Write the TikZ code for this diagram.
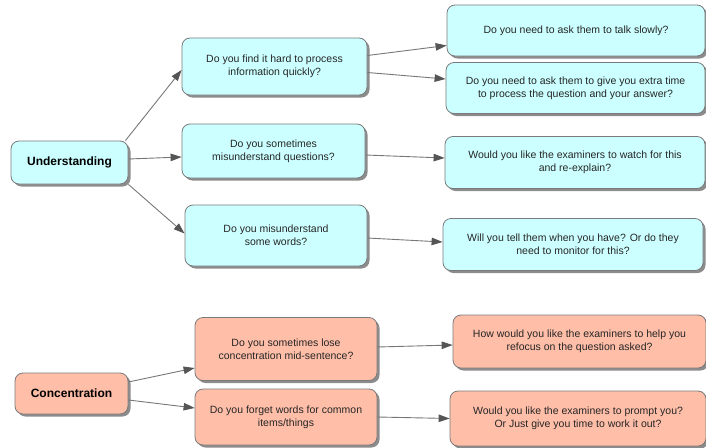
\documentclass[tikz,border=0pt]{standalone}
\usepackage{fontspec}
\setmainfont{Liberation Sans}
\usepackage{xcolor}
\usepackage{tikz}
\usetikzlibrary{shapes,arrows.meta,shadows}

\definecolor{cyanbox}{HTML}{CCFFFF}
\definecolor{salmonbox}{HTML}{FFBEA8}
\definecolor{boxline}{HTML}{7A7A7A}
\definecolor{arrowgray}{HTML}{555555}
\definecolor{linegray}{HTML}{777777}

\begin{document}
\begin{tikzpicture}[
  x=1pt, y=-1pt,
  base/.style={rectangle, draw=boxline, line width=0.8pt, rounded corners=8pt, align=center, text=black!85,
    font=\fontsize{10.5}{13}\selectfont,
    drop shadow={shadow xshift=2.5pt, shadow yshift=-2.5pt, fill=black!45, opacity=1}},
  topic/.style={base, font=\fontsize{12}{14}\selectfont\bfseries, text=black},
  undbox/.style={fill=cyanbox},
  conbox/.style={fill=salmonbox},
  arrow/.style={-{Triangle[length=11pt,width=7.5pt,color=arrowgray]}, draw=linegray, line width=0.9pt}
]
  \useasboundingbox (0,0) rectangle (706,447);

  % understanding
  \node[topic, undbox, minimum width=117pt, minimum height=43pt] (und) at (69.5,162.5) {Understanding};
  \node[base, undbox, minimum width=185pt, minimum height=57pt] (q1) at (274.5,66.5) {Do you find it hard to process\\information quickly?};
  \node[base, undbox, minimum width=183pt, minimum height=54pt] (q2) at (273.5,151) {Do you sometimes\\misunderstand questions?};
  \node[base, undbox, minimum width=182pt, minimum height=61pt] (q3) at (276,235.5) {Do you misunderstand\\some words?};
  \node[base, undbox, minimum width=258pt, minimum height=51pt] (a1) at (576,30.5) {Do you need to ask them to talk slowly?};
  \node[base, undbox, minimum width=259pt, minimum height=51pt] (a2) at (575.5,88) {Do you need to ask them to give you extra time\\to process the question and your answer?};
  \node[base, undbox, minimum width=260pt, minimum height=52pt] (a3) at (575,162.5) {Would you like the examiners to watch for this\\and re-explain?};
  \node[base, undbox, minimum width=260pt, minimum height=52pt] (a4) at (573,244.5) {Will you tell them when you have? Or do they\\need to monitor for this?};

  % concentration
  \node[topic, conbox, minimum width=113pt, minimum height=41pt] (con) at (71.5,393.5) {Concentration};
  \node[base, conbox, minimum width=182pt, minimum height=63pt] (c1) at (286,349) {Do you sometimes lose\\concentration mid-sentence?};
  \node[base, conbox, minimum width=182pt, minimum height=56pt] (c2) at (286,417) {Do you forget words for common\\items/things};
  \node[base, conbox, minimum width=253pt, minimum height=53pt] (ca1) at (579.5,341.5) {How would you like the examiners to help you\\refocus on the question asked?};
  \node[base, conbox, minimum width=256pt, minimum height=55pt] (ca2) at (578,418.5) {Would you like the examiners to prompt you?\\Or Just give you time to work it out?};

  \draw[arrow] ([xshift=-3pt]und.north east) -- ([yshift=-3.5pt]q1.west);
  \draw[arrow] ([yshift=3.5pt]und.east) -- ([yshift=-6pt]q2.west);
  \draw[arrow] (und.south east) -- ([yshift=2pt]q3.west);
  \draw[arrow] ([yshift=11pt]q1.east) -- ([yshift=-15pt]a1.west);
  \draw[arrow] ([yshift=-6pt]q1.east) -- ([yshift=9pt]a2.west);
  \draw[arrow] ([yshift=-4pt]q2.east) -- ([yshift=4.5pt]a3.west);
  \draw[arrow] ([yshift=-2.5pt]q3.east) -- ([yshift=2.5pt]a4.west);
  \draw[arrow] ([yshift=11.5pt]con.east) -- ([yshift=-19pt]c1.west);
  \draw[arrow] ([yshift=-6.5pt]con.east) -- ([yshift=9pt]c2.west);
  \draw[arrow] ([yshift=2pt]c1.east) -- ([yshift=-3.5pt]ca1.west);
  \draw[arrow] (c2.east) -- (ca2.west);
\end{tikzpicture}
\end{document}
